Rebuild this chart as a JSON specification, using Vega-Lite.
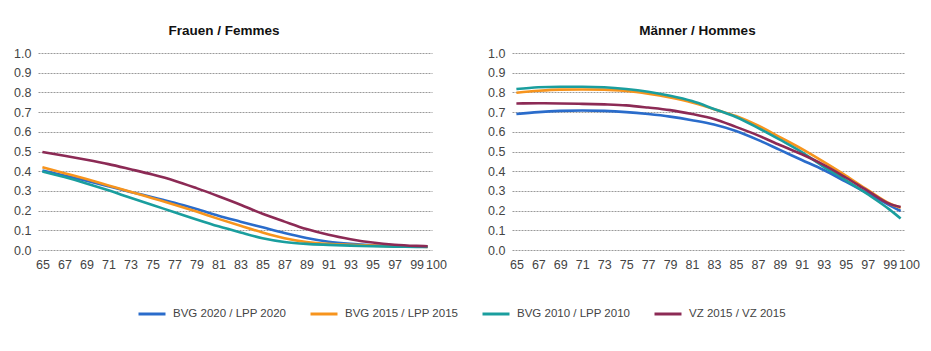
{
  "$schema": "https://vega.github.io/schema/vega-lite/v6.json",
  "background": "white",
  "padding": {"left": 13, "top": 23, "right": 10, "bottom": 10},
  "data": {"values": [
    {"g":"F","s":"BVG 2020 / LPP 2020","age":65,"v":0.403},{"g":"F","s":"BVG 2020 / LPP 2020","age":67,"v":0.378},{"g":"F","s":"BVG 2020 / LPP 2020","age":69,"v":0.352},{"g":"F","s":"BVG 2020 / LPP 2020","age":71,"v":0.324},{"g":"F","s":"BVG 2020 / LPP 2020","age":73,"v":0.295},{"g":"F","s":"BVG 2020 / LPP 2020","age":75,"v":0.268},{"g":"F","s":"BVG 2020 / LPP 2020","age":77,"v":0.24},{"g":"F","s":"BVG 2020 / LPP 2020","age":79,"v":0.208},{"g":"F","s":"BVG 2020 / LPP 2020","age":81,"v":0.174},{"g":"F","s":"BVG 2020 / LPP 2020","age":83,"v":0.144},{"g":"F","s":"BVG 2020 / LPP 2020","age":85,"v":0.115},{"g":"F","s":"BVG 2020 / LPP 2020","age":87,"v":0.086},{"g":"F","s":"BVG 2020 / LPP 2020","age":89,"v":0.061},{"g":"F","s":"BVG 2020 / LPP 2020","age":91,"v":0.042},{"g":"F","s":"BVG 2020 / LPP 2020","age":93,"v":0.031},{"g":"F","s":"BVG 2020 / LPP 2020","age":95,"v":0.024},{"g":"F","s":"BVG 2020 / LPP 2020","age":97,"v":0.02},{"g":"F","s":"BVG 2020 / LPP 2020","age":99,"v":0.018},{"g":"F","s":"BVG 2020 / LPP 2020","age":100,"v":0.017},
    {"g":"F","s":"BVG 2015 / LPP 2015","age":65,"v":0.42},{"g":"F","s":"BVG 2015 / LPP 2015","age":67,"v":0.39},{"g":"F","s":"BVG 2015 / LPP 2015","age":69,"v":0.36},{"g":"F","s":"BVG 2015 / LPP 2015","age":71,"v":0.328},{"g":"F","s":"BVG 2015 / LPP 2015","age":73,"v":0.296},{"g":"F","s":"BVG 2015 / LPP 2015","age":75,"v":0.263},{"g":"F","s":"BVG 2015 / LPP 2015","age":77,"v":0.23},{"g":"F","s":"BVG 2015 / LPP 2015","age":79,"v":0.195},{"g":"F","s":"BVG 2015 / LPP 2015","age":81,"v":0.158},{"g":"F","s":"BVG 2015 / LPP 2015","age":83,"v":0.123},{"g":"F","s":"BVG 2015 / LPP 2015","age":85,"v":0.089},{"g":"F","s":"BVG 2015 / LPP 2015","age":87,"v":0.06},{"g":"F","s":"BVG 2015 / LPP 2015","age":89,"v":0.041},{"g":"F","s":"BVG 2015 / LPP 2015","age":91,"v":0.031},{"g":"F","s":"BVG 2015 / LPP 2015","age":93,"v":0.026},{"g":"F","s":"BVG 2015 / LPP 2015","age":95,"v":0.022},{"g":"F","s":"BVG 2015 / LPP 2015","age":97,"v":0.019},{"g":"F","s":"BVG 2015 / LPP 2015","age":99,"v":0.017},{"g":"F","s":"BVG 2015 / LPP 2015","age":100,"v":0.016},
    {"g":"F","s":"BVG 2010 / LPP 2010","age":65,"v":0.398},{"g":"F","s":"BVG 2010 / LPP 2010","age":67,"v":0.37},{"g":"F","s":"BVG 2010 / LPP 2010","age":69,"v":0.338},{"g":"F","s":"BVG 2010 / LPP 2010","age":71,"v":0.303},{"g":"F","s":"BVG 2010 / LPP 2010","age":73,"v":0.265},{"g":"F","s":"BVG 2010 / LPP 2010","age":75,"v":0.228},{"g":"F","s":"BVG 2010 / LPP 2010","age":77,"v":0.192},{"g":"F","s":"BVG 2010 / LPP 2010","age":79,"v":0.155},{"g":"F","s":"BVG 2010 / LPP 2010","age":81,"v":0.12},{"g":"F","s":"BVG 2010 / LPP 2010","age":83,"v":0.089},{"g":"F","s":"BVG 2010 / LPP 2010","age":85,"v":0.06},{"g":"F","s":"BVG 2010 / LPP 2010","age":87,"v":0.041},{"g":"F","s":"BVG 2010 / LPP 2010","age":89,"v":0.031},{"g":"F","s":"BVG 2010 / LPP 2010","age":91,"v":0.026},{"g":"F","s":"BVG 2010 / LPP 2010","age":93,"v":0.022},{"g":"F","s":"BVG 2010 / LPP 2010","age":95,"v":0.019},{"g":"F","s":"BVG 2010 / LPP 2010","age":97,"v":0.017},{"g":"F","s":"BVG 2010 / LPP 2010","age":99,"v":0.016},{"g":"F","s":"BVG 2010 / LPP 2010","age":100,"v":0.015},
    {"g":"F","s":"VZ 2015 / VZ 2015","age":65,"v":0.497},{"g":"F","s":"VZ 2015 / VZ 2015","age":67,"v":0.478},{"g":"F","s":"VZ 2015 / VZ 2015","age":69,"v":0.458},{"g":"F","s":"VZ 2015 / VZ 2015","age":71,"v":0.436},{"g":"F","s":"VZ 2015 / VZ 2015","age":73,"v":0.41},{"g":"F","s":"VZ 2015 / VZ 2015","age":75,"v":0.383},{"g":"F","s":"VZ 2015 / VZ 2015","age":77,"v":0.352},{"g":"F","s":"VZ 2015 / VZ 2015","age":79,"v":0.314},{"g":"F","s":"VZ 2015 / VZ 2015","age":81,"v":0.273},{"g":"F","s":"VZ 2015 / VZ 2015","age":83,"v":0.23},{"g":"F","s":"VZ 2015 / VZ 2015","age":85,"v":0.184},{"g":"F","s":"VZ 2015 / VZ 2015","age":87,"v":0.144},{"g":"F","s":"VZ 2015 / VZ 2015","age":89,"v":0.106},{"g":"F","s":"VZ 2015 / VZ 2015","age":91,"v":0.077},{"g":"F","s":"VZ 2015 / VZ 2015","age":93,"v":0.055},{"g":"F","s":"VZ 2015 / VZ 2015","age":95,"v":0.038},{"g":"F","s":"VZ 2015 / VZ 2015","age":97,"v":0.027},{"g":"F","s":"VZ 2015 / VZ 2015","age":99,"v":0.021},{"g":"F","s":"VZ 2015 / VZ 2015","age":100,"v":0.019},
    {"g":"M","s":"BVG 2020 / LPP 2020","age":65,"v":0.69},{"g":"M","s":"BVG 2020 / LPP 2020","age":67,"v":0.7},{"g":"M","s":"BVG 2020 / LPP 2020","age":69,"v":0.706},{"g":"M","s":"BVG 2020 / LPP 2020","age":71,"v":0.708},{"g":"M","s":"BVG 2020 / LPP 2020","age":73,"v":0.706},{"g":"M","s":"BVG 2020 / LPP 2020","age":75,"v":0.7},{"g":"M","s":"BVG 2020 / LPP 2020","age":77,"v":0.69},{"g":"M","s":"BVG 2020 / LPP 2020","age":79,"v":0.677},{"g":"M","s":"BVG 2020 / LPP 2020","age":81,"v":0.659},{"g":"M","s":"BVG 2020 / LPP 2020","age":83,"v":0.637},{"g":"M","s":"BVG 2020 / LPP 2020","age":85,"v":0.604},{"g":"M","s":"BVG 2020 / LPP 2020","age":87,"v":0.559},{"g":"M","s":"BVG 2020 / LPP 2020","age":89,"v":0.508},{"g":"M","s":"BVG 2020 / LPP 2020","age":91,"v":0.457},{"g":"M","s":"BVG 2020 / LPP 2020","age":93,"v":0.406},{"g":"M","s":"BVG 2020 / LPP 2020","age":95,"v":0.347},{"g":"M","s":"BVG 2020 / LPP 2020","age":97,"v":0.287},{"g":"M","s":"BVG 2020 / LPP 2020","age":99,"v":0.227},{"g":"M","s":"BVG 2020 / LPP 2020","age":100,"v":0.198},
    {"g":"M","s":"BVG 2015 / LPP 2015","age":65,"v":0.798},{"g":"M","s":"BVG 2015 / LPP 2015","age":67,"v":0.808},{"g":"M","s":"BVG 2015 / LPP 2015","age":69,"v":0.814},{"g":"M","s":"BVG 2015 / LPP 2015","age":71,"v":0.815},{"g":"M","s":"BVG 2015 / LPP 2015","age":73,"v":0.814},{"g":"M","s":"BVG 2015 / LPP 2015","age":75,"v":0.807},{"g":"M","s":"BVG 2015 / LPP 2015","age":77,"v":0.793},{"g":"M","s":"BVG 2015 / LPP 2015","age":79,"v":0.774},{"g":"M","s":"BVG 2015 / LPP 2015","age":81,"v":0.749},{"g":"M","s":"BVG 2015 / LPP 2015","age":83,"v":0.715},{"g":"M","s":"BVG 2015 / LPP 2015","age":85,"v":0.68},{"g":"M","s":"BVG 2015 / LPP 2015","age":87,"v":0.632},{"g":"M","s":"BVG 2015 / LPP 2015","age":89,"v":0.573},{"g":"M","s":"BVG 2015 / LPP 2015","age":91,"v":0.513},{"g":"M","s":"BVG 2015 / LPP 2015","age":93,"v":0.447},{"g":"M","s":"BVG 2015 / LPP 2015","age":95,"v":0.378},{"g":"M","s":"BVG 2015 / LPP 2015","age":97,"v":0.305},{"g":"M","s":"BVG 2015 / LPP 2015","age":99,"v":0.236},{"g":"M","s":"BVG 2015 / LPP 2015","age":100,"v":0.214},
    {"g":"M","s":"BVG 2010 / LPP 2010","age":65,"v":0.817},{"g":"M","s":"BVG 2010 / LPP 2010","age":67,"v":0.826},{"g":"M","s":"BVG 2010 / LPP 2010","age":69,"v":0.829},{"g":"M","s":"BVG 2010 / LPP 2010","age":71,"v":0.829},{"g":"M","s":"BVG 2010 / LPP 2010","age":73,"v":0.826},{"g":"M","s":"BVG 2010 / LPP 2010","age":75,"v":0.817},{"g":"M","s":"BVG 2010 / LPP 2010","age":77,"v":0.803},{"g":"M","s":"BVG 2010 / LPP 2010","age":79,"v":0.783},{"g":"M","s":"BVG 2010 / LPP 2010","age":81,"v":0.756},{"g":"M","s":"BVG 2010 / LPP 2010","age":83,"v":0.716},{"g":"M","s":"BVG 2010 / LPP 2010","age":85,"v":0.675},{"g":"M","s":"BVG 2010 / LPP 2010","age":87,"v":0.62},{"g":"M","s":"BVG 2010 / LPP 2010","age":89,"v":0.56},{"g":"M","s":"BVG 2010 / LPP 2010","age":91,"v":0.497},{"g":"M","s":"BVG 2010 / LPP 2010","age":93,"v":0.422},{"g":"M","s":"BVG 2010 / LPP 2010","age":95,"v":0.355},{"g":"M","s":"BVG 2010 / LPP 2010","age":97,"v":0.283},{"g":"M","s":"BVG 2010 / LPP 2010","age":99,"v":0.205},{"g":"M","s":"BVG 2010 / LPP 2010","age":100,"v":0.16},
    {"g":"M","s":"VZ 2015 / VZ 2015","age":65,"v":0.744},{"g":"M","s":"VZ 2015 / VZ 2015","age":67,"v":0.745},{"g":"M","s":"VZ 2015 / VZ 2015","age":69,"v":0.744},{"g":"M","s":"VZ 2015 / VZ 2015","age":71,"v":0.742},{"g":"M","s":"VZ 2015 / VZ 2015","age":73,"v":0.739},{"g":"M","s":"VZ 2015 / VZ 2015","age":75,"v":0.734},{"g":"M","s":"VZ 2015 / VZ 2015","age":77,"v":0.723},{"g":"M","s":"VZ 2015 / VZ 2015","age":79,"v":0.71},{"g":"M","s":"VZ 2015 / VZ 2015","age":81,"v":0.69},{"g":"M","s":"VZ 2015 / VZ 2015","age":83,"v":0.665},{"g":"M","s":"VZ 2015 / VZ 2015","age":85,"v":0.625},{"g":"M","s":"VZ 2015 / VZ 2015","age":87,"v":0.582},{"g":"M","s":"VZ 2015 / VZ 2015","age":89,"v":0.533},{"g":"M","s":"VZ 2015 / VZ 2015","age":91,"v":0.486},{"g":"M","s":"VZ 2015 / VZ 2015","age":93,"v":0.432},{"g":"M","s":"VZ 2015 / VZ 2015","age":95,"v":0.368},{"g":"M","s":"VZ 2015 / VZ 2015","age":97,"v":0.3},{"g":"M","s":"VZ 2015 / VZ 2015","age":99,"v":0.234},{"g":"M","s":"VZ 2015 / VZ 2015","age":100,"v":0.218}
  ]},
  "spacing": 40,
  "hconcat": [
    {
      "title": {"text": "Frauen / Femmes"},
      "width": 394, "height": 197,
      "transform": [{"filter": "datum.g === 'F'"}],
      "mark": {"type": "line", "interpolate": "monotone", "strokeWidth": 2.6},
      "encoding": {
        "x": {"field": "age", "type": "quantitative", "scale": {"domain": [64.6, 100.4], "nice": false, "zero": false}, "axis": {"title": null, "grid": false, "values": [65,67,69,71,73,75,77,79,81,83,85,87,89,91,93,95,97,99,100], "labelAlign": {"condition": {"test": "datum.value == 100", "value": "left"}, "value": "center"}, "labelOffset": {"condition": {"test": "datum.value == 100", "value": -2}, "value": 0}}},
        "y": {"field": "v", "type": "quantitative", "scale": {"domain": [0, 1], "nice": false}, "axis": {"title": null, "values": [0,0.1,0.2,0.3,0.4,0.5,0.6,0.7,0.8,0.9,1], "format": ".1f"}},
        "color": {"field": "s", "type": "nominal", "scale": {"domain": ["BVG 2020 / LPP 2020","BVG 2015 / LPP 2015","BVG 2010 / LPP 2010","VZ 2015 / VZ 2015"], "range": ["#2a6ccb","#f7941d","#1a9e9e","#8c2a55"]}, "legend": {"title": null, "orient": "none", "direction": "horizontal", "columns": 4, "legendX": 99, "legendY": 246}}
      }
    },
    {
      "title": {"text": "Männer / Hommes"},
      "width": 393, "height": 197,
      "transform": [{"filter": "datum.g === 'M'"}],
      "mark": {"type": "line", "interpolate": "monotone", "strokeWidth": 2.6},
      "encoding": {
        "x": {"field": "age", "type": "quantitative", "scale": {"domain": [64.6, 100.4], "nice": false, "zero": false}, "axis": {"title": null, "grid": false, "values": [65,67,69,71,73,75,77,79,81,83,85,87,89,91,93,95,97,99,100], "labelAlign": {"condition": {"test": "datum.value == 100", "value": "left"}, "value": "center"}, "labelOffset": {"condition": {"test": "datum.value == 100", "value": -2}, "value": 0}}},
        "y": {"field": "v", "type": "quantitative", "scale": {"domain": [0, 1], "nice": false}, "axis": {"title": null, "values": [0,0.1,0.2,0.3,0.4,0.5,0.6,0.7,0.8,0.9,1], "format": ".1f"}},
        "color": {"field": "s", "type": "nominal", "scale": {"domain": ["BVG 2020 / LPP 2020","BVG 2015 / LPP 2015","BVG 2010 / LPP 2010","VZ 2015 / VZ 2015"], "range": ["#2a6ccb","#f7941d","#1a9e9e","#8c2a55"]}}
      }
    }
  ],
  "resolve": {"scale": {"color": "shared"}},
  "config": {
    "view": {"stroke": null},
    "font": "Liberation Sans",
    "title": {"font": "Liberation Sans", "fontSize": 13.5, "fontWeight": "bold", "color": "#111", "anchor": "middle", "frame": "group", "dx": -11, "offset": 10},
    "axis": {
      "domain": false, "ticks": false,
      "gridColor": "#808080", "gridDash": [2, 1], "gridWidth": 0.8,
      "labelFont": "Liberation Sans", "labelFontSize": 12.5, "labelColor": "#444",
      "labelOverlap": false, "labelBound": false, "labelFlush": false
    },
    "axisY": {"labelPadding": 7, "grid": true},
    "axisX": {"labelPadding": 8},
    "legend": {
      "symbolType": "stroke", "symbolSize": 729, "symbolStrokeWidth": 3,
      "labelFont": "Liberation Sans", "labelFontSize": 11.5, "labelColor": "#444",
      "labelOffset": 6, "columnPadding": 17, "gridAlign": "all", "labelLimit": 300
    }
  }
}
